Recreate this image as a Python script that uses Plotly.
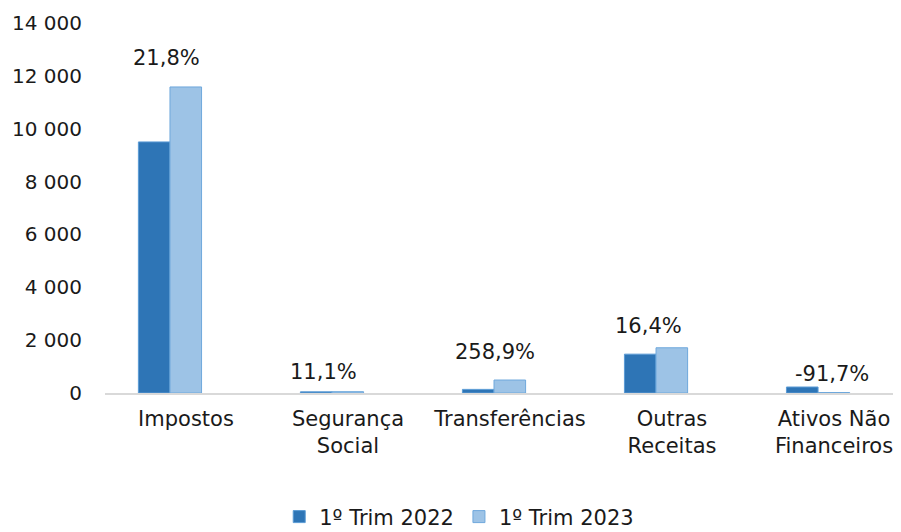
import plotly.graph_objects as go

categories = ["Impostos", "Segurança<br>Social", "Transferências", "Outras<br>Receitas", "Ativos Não<br>Financeiros"]
trim_2022 = [9500, 45, 137, 1470, 227]
trim_2023 = [11580, 50, 491, 1711, 19]
pct_labels = ["21,8%", "11,1%", "258,9%", "16,4%", "-91,7%"]
label_yoff = [29, 20, 28, 22, 13]   # px above taller bar (label centre)
label_xoff = [-3, -8, 1, -8, 14]    # px horizontal nudge

FONT = "DejaVu Sans, sans-serif"
x = list(range(len(categories)))

fig = go.Figure()
fig.add_trace(go.Bar(x=x, y=trim_2022, name="1º Trim 2022",
                     marker=dict(color="#2E75B6", line=dict(color="#5B9BD5", width=1))))
fig.add_trace(go.Bar(x=x, y=trim_2023, name="1º Trim 2023",
                     marker=dict(color="#9DC3E6", line=dict(color="#6FA8DC", width=1))))

for i, lab in enumerate(pct_labels):
    fig.add_annotation(x=i, y=max(trim_2022[i], trim_2023[i]), text=lab, showarrow=False,
                       yanchor="middle", yshift=label_yoff[i], xshift=label_xoff[i],
                       font=dict(size=21, color="#1a1a1a", family=FONT))

fig.update_layout(
    width=901, height=532,
    margin=dict(l=97, r=8, t=15, b=147, autoexpand=False),
    paper_bgcolor="white", plot_bgcolor="white",
    barmode="group", bargap=0.61, bargroupgap=0,
    separators=", ",
    font=dict(family=FONT, size=20, color="#1a1a1a"),
    showlegend=True,
    legend=dict(orientation="h", x=0.445, xanchor="center", y=-0.335, yanchor="middle",
                font=dict(size=21, family=FONT), itemwidth=30, traceorder="normal"),
)
fig.update_xaxes(tickvals=x, ticktext=categories, range=[-0.401, 4.512],
                 showline=True, linecolor="#D9D9D9", linewidth=1.5, ticks="",
                 tickfont=dict(size=21, family=FONT), showgrid=False, zeroline=False,
                 automargin=False, ticklabelshift=16, ticklabelstandoff=6)
fig.update_yaxes(range=[0, 14000], dtick=2000, tickformat=",d", showgrid=False,
                 zeroline=False, showline=False, ticks="", ticklabelstandoff=22,
                 automargin=False, tickfont=dict(size=20, family=FONT))

fig.write_html("out.html")
